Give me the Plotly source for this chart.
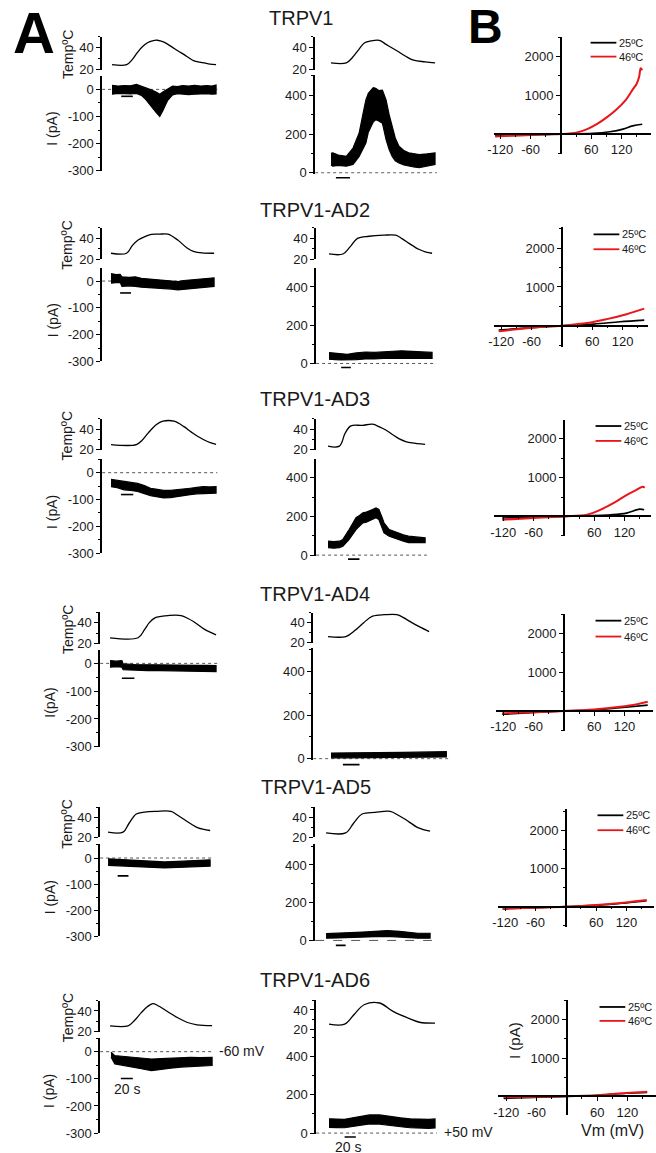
import plotly.graph_objects as go

W, H = 656, 1153
FONT = "Liberation Sans, Arial, sans-serif"
TXT = "#1a1a1a"

# ---------------- DATA ----------------
titles = ["TRPV1", "TRPV1-AD2", "TRPV1-AD3", "TRPV1-AD4", "TRPV1-AD5", "TRPV1-AD6"]
cur_labels = ["I (pA)", "I (pA)", "I (pA)", "I(pA)", "I (pA)", "I (pA)"]
temp_label = "TempºC"
leg_labels = ["25ºC", "46ºC"]
left_ticks = [0, -100, -200, -300]
mid_ticks = [0, 200, 400]
temp_ticks = [20, 40]
iv_xticks = [-120, -60, 60, 120]
iv_yticks = [1000, 2000]

# --- -60 mV column: temperature (s, degC)
L_temp_t = [
    [0, 24, 33, 42, 50, 58, 66, 74, 85, 97, 108, 118, 126, 134, 143, 151, 160, 170],
    [0, 25.6, 35, 44.7, 55.6, 66.5, 80, 93.7, 110, 126, 137, 150, 170],
    [0, 41, 50, 60, 73, 84, 102, 118, 130, 140, 156, 170],
    [0, 45, 55, 63, 72, 82, 93, 114, 125, 135, 151, 170],
    [0, 25, 35, 47, 61, 80, 105, 116, 127, 139, 150, 170],
    [0, 30, 41, 52, 62, 71, 80, 90, 101, 112, 129, 145, 170],
]
L_temp_v = [
    [24.5, 24.5, 29, 36, 41, 44.5, 46.3, 46.8, 45, 41, 37, 33.6, 30.5, 28, 26.8, 26, 25, 24.5],
    [25.7, 25.7, 33, 38.4, 41.6, 43.8, 44, 44, 38.4, 30.5, 27.3, 26, 25.7],
    [25, 25, 29, 36, 44, 47.5, 47.5, 42.3, 37, 33, 28, 25.2],
    [25.5, 25.5, 33, 40, 44.6, 46, 46.8, 46.8, 44, 40.6, 33.8, 28.3],
    [25, 25, 34, 43.3, 45.3, 46, 46, 42, 37.7, 33, 29.3, 26.7],
    [25.7, 25.7, 31, 38.4, 44, 47, 45, 41.6, 37.5, 33.7, 28.9, 26.7, 26],
]
# --- -60 mV column: current noise band (s, upper pA, lower pA)
L_cur_t = [
    [0, 10, 20, 30, 40, 48, 55, 64, 72, 78, 83, 91, 99, 107, 115, 125, 135, 145, 155, 163, 170],
    [0, 8, 15, 18, 30, 40, 50, 60, 70, 80, 90, 100, 110, 120, 130, 140, 150, 160, 170],
    [0, 10, 21, 32, 43, 54, 64, 75, 85, 96, 107, 118, 128, 139, 149, 160, 170],
    [0, 10, 19, 21, 40, 60, 80, 100, 120, 140, 155, 170],
    [0, 25, 50, 72, 94, 116, 138, 155, 170],
    [1.6, 8, 20, 36, 52, 69, 85, 101, 118, 134, 150, 170],
]
L_cur_up = [
    [15, 12, 14, 13, 18, 12, 6, -2, -10, -18, -10, 2, 12, 10, 14, 12, 15, 12, 14, 12, 16],
    [28, 24, 25, 16, 14, 16, 10, 8, 6, 4, 2, 0, -2, 2, 4, 6, 8, 10, 12],
    [-25, -28, -34, -36, -40, -48, -58, -62, -66, -66, -64, -62, -58, -55, -52, -53, -52],
    [10, 8, 10, -2, -4, -5, -5, -6, -6, -7, -7, -8],
    [-3, -6, -9, -12, -15, -13, -11, -9, -7],
    [-2, -15, -17, -21, -24, -27, -26, -24, -22, -21, -22, -21],
]
L_cur_lo = [
    [-18, -15, -16, -17, -15, -22, -37, -61, -85, -100, -79, -40, -20, -16, -17, -19, -18, -16, -16, -18, -17],
    [-8, -6, -5, -20, -18, -20, -23, -24, -26, -27, -29, -30, -33, -30, -27, -26, -24, -22, -20],
    [-52, -56, -64, -66, -70, -78, -86, -90, -94, -93, -90, -86, -82, -79, -76, -77, -76],
    [-14, -12, -14, -23, -25, -26, -26, -27, -28, -28, -29, -30],
    [-28, -31, -34, -36, -38, -36, -34, -33, -31],
    [-20, -45, -50, -57, -63, -70, -66, -61, -57, -54, -53, -51],
]
# --- +50 mV column: temperature
M_temp_t = [
    [0, 25, 35, 45, 55, 65, 79, 90, 100, 111, 122, 135, 154, 170],
    [0, 23, 35, 47, 66, 90, 110, 121, 132, 148, 160, 170],
    [0, 20, 30, 40, 60, 78, 90, 101, 112, 124, 136, 147, 170],
    [0, 30, 45, 60, 75, 95, 116, 130, 141, 155, 170],
    [0, 32, 45, 59, 80, 105, 118, 130, 151, 170],
    [0, 25, 41, 57, 81, 102, 129, 145, 170],
]
M_temp_v = [
    [26, 26, 31, 38, 44.5, 46.2, 46.7, 43, 39.7, 36, 32.1, 28.5, 27, 26],
    [25, 25, 32, 40, 42, 43, 43, 39.5, 35.2, 29.5, 26.8, 25.7],
    [23.6, 23.6, 36, 43, 43.5, 44.6, 42, 39, 35, 30.8, 28, 26.6, 25.2],
    [26, 26, 32, 40, 46.5, 48, 48, 44, 40, 35.5, 31],
    [24.3, 24.3, 34, 43.3, 45, 46, 42, 37.7, 29.3, 26],
    [25.7, 25.7, 36, 45.5, 47, 38.8, 31.2, 27.6, 26.7],
]
# --- +50 mV column: current noise band
M_cur_t = [
    [0, 3, 12, 25, 36, 46, 52, 57, 61, 65, 69, 73, 78, 84, 90, 95, 100, 105, 111, 119, 127, 135, 144, 157, 170],
    [0, 10, 20, 30, 45, 60, 75, 90, 105, 120, 135, 150, 160, 170],
    [0, 10, 20, 26, 37, 49, 55, 61, 67, 72, 78, 84, 89, 94, 98, 107, 115, 124, 132, 141, 155, 170],
    [5, 30, 50, 75, 100, 125, 150, 175, 199],
    [0, 20, 40, 60, 80, 100, 120, 135, 150, 170],
    [0, 12, 25, 38, 50, 65, 81, 100, 115, 130, 145, 160, 170],
]
M_cur_up = [
    [100, 103, 92, 85, 128, 205, 300, 376, 410, 427, 440, 436, 425, 427, 376, 300, 239, 180, 137, 115, 103, 100, 94, 98, 103],
    [57, 54, 50, 48, 55, 60, 58, 62, 64, 66, 63, 62, 60, 58],
    [72, 70, 72, 81, 132, 193, 205, 218, 222, 227, 235, 244, 236, 200, 167, 132, 122, 115, 105, 98, 92, 89],
    [26, 26, 27, 27, 28, 29, 30, 31, 32],
    [36, 38, 40, 44, 48, 52, 48, 42, 38, 38],
    [75, 74, 72, 80, 88, 95, 95, 85, 80, 75, 73, 72, 74],
]
M_cur_lo = [
    [40, 34, 38, 34, 43, 85, 120, 154, 210, 239, 262, 274, 268, 256, 171, 120, 85, 62, 51, 40, 34, 30, 26, 35, 43],
    [22, 20, 18, 17, 20, 24, 24, 26, 27, 28, 27, 26, 26, 26],
    [38, 36, 38, 46, 81, 132, 150, 167, 170, 175, 185, 193, 184, 145, 115, 98, 88, 81, 72, 64, 64, 64],
    [4, 4, 5, 5, 6, 6, 7, 7, 8],
    [12, 13, 14, 17, 20, 22, 18, 14, 12, 12],
    [30, 29, 28, 34, 40, 48, 47, 38, 33, 28, 26, 25, 27],
]
# 20 s scale bars (start s, end s)
L_bar_t = [[15, 34], [15, 33], [16, 36], [19, 39], [16, 34], [18, 38]]
M_bar_t = [[8, 31], [20, 36], [35, 55], [25, 53], [16, 32], [25, 43]]

# --- B: I-V curves (mV, pA)
IV_red_v = [
    [-130, -100, -60, -30, 0, 32, 52, 71, 90, 110, 129, 142, 150, 155, 158, 161],
    [-125, -66, 0, 50, 89, 128, 163],
    [-122, -60, 0, 46, 72, 98, 124, 143, 156, 160],
    [-122, 0, 59, 111, 143, 166],
    [-125, 0, 67, 119, 160],
    [-125, 0, 66, 117, 159],
]
IV_red_i = [
    [-60, -45, -25, -10, 0, 42, 128, 255, 425, 637, 892, 1147, 1300, 1487, 1700, 1650],
    [-145, -60, 0, 68, 170, 298, 442],
    [-85, -42, 0, 42, 170, 340, 552, 680, 765, 740],
    [-60, 0, 42, 110, 170, 238],
    [-43, 0, 52, 112, 172],
    [-26, 0, 35, 87, 122],
]
IV_blk_v = [
    [-130, -60, 0, 64, 97, 123, 142, 161],
    [-125, -60, 0, 63, 115, 163],
    [-122, 0, 92, 124, 150, 159],
    [-122, 0, 59, 111, 166],
    [-125, 0, 67, 119, 160],
    [-125, 0, 66, 117, 159],
]
IV_blk_i = [
    [-42, -20, 0, 17, 60, 128, 212, 255],
    [-110, -50, 0, 42, 102, 145],
    [-42, 0, 42, 85, 187, 170],
    [-85, 0, 25, 85, 153],
    [-60, 0, 40, 100, 155],
    [-52, 0, 30, 80, 104],
]

# ---------------- GEOMETRY (page pixels) ----------------
G = [
    dict(title=(298, 18),
         L=dict(ax=97, start=107, end=212, right=216, t40=48, t20=70, c0=90, c300=172, ct=77),
         M=dict(ax=312, start=328, end=433, right=438, t40=48, t20=70, c0=174, c400=96, ct=76),
         B=dict(zx=560, left=492, right=651, zy=135, y2000=57, top=37, bot=155, lx=590, ly=(43, 57)),
         Lbar=97, Mbar=179),
    dict(title=(312, 211),
         L=dict(ax=97, start=106, end=210, right=214, t40=240, t20=261, c0=283, c300=364, ct=270),
         M=dict(ax=313, start=326, end=430, right=434, t40=240, t20=261, c0=366, c400=289, ct=270),
         B=dict(zx=561, left=492, right=648, zy=328, y2000=250, top=229, bot=349, lx=593, ly=(236, 251)),
         Lbar=295, Mbar=370),
    dict(title=(312, 402),
         L=dict(ax=97, start=106, end=212, right=216, t40=432, t20=453, c0=476, c300=557, ct=462),
         M=dict(ax=313, start=325, end=423, right=428, t40=432, t20=453, c0=559, c400=481, ct=462),
         B=dict(zx=563, left=493, right=651, zy=520, y2000=442, top=423, bot=540, lx=595, ly=(429, 444)),
         Lbar=498, Mbar=563),
    dict(title=(312, 598),
         L=dict(ax=95, start=105, end=212, right=216, t40=627, t20=648, c0=668, c300=752, ct=655),
         M=dict(ax=310, start=325, end=427, right=448, t40=627, t20=647, c0=764, c400=676, ct=653),
         B=dict(zx=563, left=495, right=653, zy=716, y2000=638, top=618, bot=736, lx=595, ly=(625, 641)),
         Lbar=683, Mbar=770),
    dict(title=(313, 793),
         L=dict(ax=95, start=103, end=206, right=210, t40=823, t20=843, c0=864, c300=943, ct=850),
         M=dict(ax=312, start=323, end=428, right=432, t40=823, t20=843, c0=947, c400=871, ct=850),
         B=dict(zx=565, left=497, right=654, zy=913, y2000=836, top=815, bot=933, lx=597, ly=(821, 836)),
         Lbar=882, Mbar=952),
    dict(title=(312, 987),
         L=dict(ax=95, start=105, end=208, right=212, t40=1018, t20=1039, c0=1059, c300=1141, ct=1045),
         M=dict(ax=313, start=326, end=433, right=437, t40=1017, t20=1037, c0=1141, c400=1064, ct=1036),
         B=dict(zx=566, left=497, right=656, zy=1104, y2000=1027, top=1007, bot=1123, lx=599, ly=(1014, 1028)),
         Lbar=1086, Mbar=1145),
]
MV_PX = 0.51  # px per mV in panel B
T_SPAN = 170.0


def px(x):
    return x / W


def py(y):
    return 1 - y / H


def labels(vals):
    return [str(v) for v in vals]  # ASCII hyphen-minus, as in the figure


fig = go.Figure()
layout = {}
shapes = []
annotations = []
counter = [0]

AXIS_Y = dict(showline=True, linecolor="black", linewidth=1.5, ticks="outside", ticklen=4,
              tickwidth=1.3, tickcolor="black", showgrid=False, zeroline=False,
              tickfont=dict(family=FONT, size=13, color=TXT), fixedrange=True)


def new_axes():
    counter[0] += 1
    k = counter[0]
    xn = "x" if k == 1 else f"x{k}"
    yn = "y" if k == 1 else f"y{k}"
    xk = "xaxis" if k == 1 else f"xaxis{k}"
    yk = "yaxis" if k == 1 else f"yaxis{k}"
    return xn, yn, xk, yk


def time_axis(g):
    k = T_SPAN / (g["end"] - g["start"])
    return [px(g["ax"]), px(g["right"])], [(g["ax"] - g["start"]) * k, (g["right"] - g["start"]) * k]


def yspan(p1, v1, p2, v2, top, bot):
    s = (v2 - v1) / (p2 - p1)
    return [py(bot), py(top)], [v1 + (bot - p1) * s, v1 + (top - p1) * s]


def temp_panel(g, tt, tv):
    xn, yn, xk, yk = new_axes()
    xd, xr = time_axis(g)
    ttop = g["t20"] - 30 * (g["t20"] - g["t40"]) / 20.0
    yd, yr = yspan(g["t40"], 40, g["t20"], 20, ttop, g["t20"])
    layout[xk] = dict(domain=xd, range=xr, visible=False, anchor=yn, fixedrange=True)
    layout[yk] = dict(domain=yd, range=yr, anchor=xn, tickvals=temp_ticks, ticktext=labels(temp_ticks),
                      minor=dict(dtick=10, ticklen=2, ticks="outside", tickcolor="black"), **AXIS_Y)
    fig.add_trace(go.Scatter(x=tt, y=tv, mode="lines", line=dict(color="black", width=1.3, shape="spline"),
                             xaxis=xn, yaxis=yn, showlegend=False, hoverinfo="skip"))


def band(xn, yn, t, up, lo):
    fig.add_trace(go.Scatter(x=list(t) + list(t)[::-1], y=list(up) + list(lo)[::-1], mode="lines",
                             fill="toself", fillcolor="black", line=dict(color="black", width=1.2),
                             xaxis=xn, yaxis=yn, showlegend=False, hoverinfo="skip"))


def text(t, x, y, size, xa="center", ang=0, color=TXT):
    annotations.append(dict(text=t, x=px(x), y=py(y), xref="paper", yref="paper", xanchor=xa,
                            yanchor="middle", showarrow=False, textangle=ang,
                            font=dict(family=FONT, size=size, color=color)))


for r in range(6):
    g = G[r]
    # ---- left column
    L = g["L"]
    temp_panel(L, L_temp_t[r], L_temp_v[r])
    xn, yn, xk, yk = new_axes()
    xd, xr = time_axis(L)
    yd, yr = yspan(L["c0"], 0, L["c300"], -300, L["ct"], L["c300"])
    layout[xk] = dict(domain=xd, range=xr, visible=False, anchor=yn, fixedrange=True)
    layout[yk] = dict(domain=yd, range=yr, anchor=xn, tickvals=left_ticks, ticktext=labels(left_ticks),
                      minor=dict(dtick=50, ticklen=2, ticks="outside", tickcolor="black"), **AXIS_Y)
    shapes.append(dict(type="line", xref=xn, yref=yn, x0=xr[0], x1=max(L_cur_t[r]) + 2, y0=0, y1=0,
                       layer="below", line=dict(color="#555555", width=1, dash="dot")))
    band(xn, yn, L_cur_t[r], L_cur_up[r], L_cur_lo[r])
    shapes.append(dict(type="line", xref=xn, yref="paper", x0=L_bar_t[r][0], x1=L_bar_t[r][1],
                       y0=py(g["Lbar"]), y1=py(g["Lbar"]), line=dict(color="black", width=1.6)))
    text(temp_label, 62, L["t40"] + 7, 14, ang=-90)
    text(cur_labels[r], 47 if r < 3 else 44, L["c0"] + 40, 14, ang=-90)

    # ---- middle column
    M = g["M"]
    temp_panel(M, M_temp_t[r], M_temp_v[r])
    xn, yn, xk, yk = new_axes()
    xd, xr = time_axis(M)
    yd, yr = yspan(M["c0"], 0, M["c400"], 400, M["ct"], M["c0"] + 1)
    layout[xk] = dict(domain=xd, range=xr, visible=False, anchor=yn, fixedrange=True)
    layout[yk] = dict(domain=yd, range=yr, anchor=xn, tickvals=mid_ticks, ticktext=labels(mid_ticks),
                      minor=dict(dtick=100, ticklen=2, ticks="outside", tickcolor="black"), **AXIS_Y)
    shapes.append(dict(type="line", xref=xn, yref=yn, x0=xr[0], x1=max(M_cur_t[r]) + 3, y0=0, y1=0,
                       layer="below", line=dict(color="#555555", width=1, dash="dash" if r == 4 else "dot")))
    band(xn, yn, M_cur_t[r], M_cur_up[r], M_cur_lo[r])
    shapes.append(dict(type="line", xref=xn, yref="paper", x0=M_bar_t[r][0], x1=M_bar_t[r][1],
                       y0=py(g["Mbar"]), y1=py(g["Mbar"]), line=dict(color="black", width=1.6)))

    # ---- title
    text(titles[r], g["title"][0], g["title"][1], 20)

    # ---- B: I-V
    B = g["B"]
    xn, yn, xk, yk = new_axes()
    xr = [(B["left"] - B["zx"]) / MV_PX, (B["right"] - B["zx"]) / MV_PX]
    yd, yr = yspan(B["zy"], 0, B["y2000"], 2000, B["top"], B["bot"])
    layout[xk] = dict(domain=[px(B["left"]), px(B["right"])], range=xr, anchor="free",
                      position=py(B["zy"]), tickvals=iv_xticks, ticktext=labels(iv_xticks),
                      minor=dict(dtick=30, ticklen=2, ticks="outside", tickcolor="black"), **AXIS_Y)
    layout[yk] = dict(domain=yd, range=yr, anchor="free", position=px(B["zx"]), tickvals=iv_yticks,
                      ticktext=labels(iv_yticks),
                      minor=dict(dtick=500, ticklen=2, ticks="outside", tickcolor="black"), **AXIS_Y)
    fig.add_trace(go.Scatter(x=IV_blk_v[r], y=IV_blk_i[r], mode="lines",
                             line=dict(color="black", width=1.6, shape="spline"),
                             xaxis=xn, yaxis=yn, showlegend=False, hoverinfo="skip"))
    fig.add_trace(go.Scatter(x=IV_red_v[r], y=IV_red_i[r], mode="lines",
                             line=dict(color="#e8161b", width=2, shape="spline"),
                             xaxis=xn, yaxis=yn, showlegend=False, hoverinfo="skip"))
    for j, (col, lab) in enumerate(zip(["black", "#e8161b"], leg_labels)):
        yy = py(B["ly"][j])
        shapes.append(dict(type="line", xref="paper", yref="paper", x0=px(B["lx"]), x1=px(B["lx"] + 26),
                           y0=yy, y1=yy, line=dict(color=col, width=1.8)))
        text(lab, B["lx"] + 27, B["ly"][j], 11, xa="left")

# extra text
text("<b>A</b>", 28, 33, 58, color="black")
text("<b>B</b>", 484, 27, 48, color="black")
text("-60 mV", 213, 1058, 14, xa="left")
text("+50 mV", 440, 1140, 14, xa="left")
text("20 s", 122, 1097, 14)
text("20 s", 345, 1155, 14)
text("I (pA)", 513, 1048, 15, ang=-90)
text("Vm (mV)", 612, 1138, 16)

fig.update_layout(width=W, height=H, margin=dict(l=0, r=0, t=0, b=0), paper_bgcolor="white",
                  plot_bgcolor="rgba(0,0,0,0)", showlegend=False, shapes=shapes,
                  annotations=annotations, **layout)
fig.write_html("out.html", config={"displayModeBar": False},
               post_script="document.body.style.margin='0px';")
